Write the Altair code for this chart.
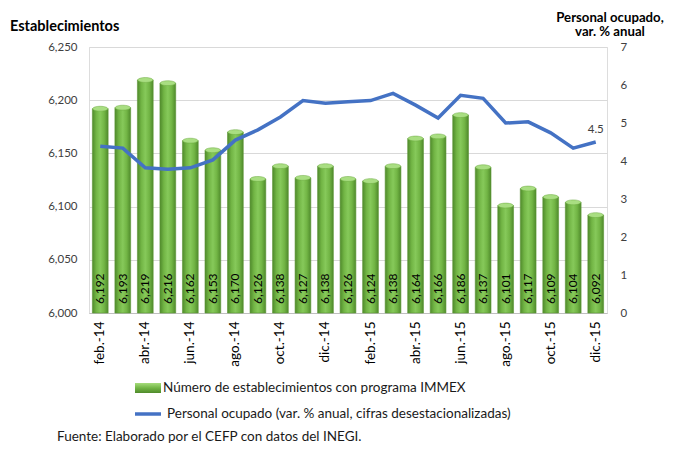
import altair as alt
import pandas as pd

meses = ["feb.-14", "mar.-14", "abr.-14", "may.-14", "jun.-14", "jul.-14", "ago.-14",
         "sep.-14", "oct.-14", "nov.-14", "dic.-14", "ene.-15", "feb.-15", "mar.-15",
         "abr.-15", "may.-15", "jun.-15", "jul.-15", "ago.-15", "sep.-15", "oct.-15",
         "nov.-15", "dic.-15"]
establecimientos = [6192, 6193, 6219, 6216, 6162, 6153, 6170, 6126, 6138, 6127, 6138,
                    6126, 6124, 6138, 6164, 6166, 6186, 6137, 6101, 6117, 6109, 6104, 6092]
personal = [4.39, 4.34, 3.82, 3.78, 3.82, 4.03, 4.55, 4.82, 5.16, 5.59, 5.52, 5.56,
            5.59, 5.78, 5.47, 5.13, 5.73, 5.65, 5.00, 5.03, 4.74, 4.34, 4.50]
etiquetas_x = meses[::2]
ticks_izq = [6000, 6050, 6100, 6150, 6200, 6250]
ticks_der = [0, 1, 2, 3, 4, 5, 6, 7]

FONT = "Lato"

df = pd.DataFrame({"mes": meses, "estab": establecimientos, "personal": personal})
df["etq"] = df["estab"].map(lambda v: f"{v:,}")
df["etq_p"] = df["personal"].map(lambda v: f"{v:.1f}")
df["piso"] = 6000

x_axis = alt.Axis(values=etiquetas_x, title=None, labelAngle=270,
                  labelFontSize=13.5, labelColor="#000000", labelFont=FONT,
                  ticks=False, domainColor="#bfbfbf", domainWidth=1,
                  labelPadding=8, grid=False)
x_scale = alt.Scale(paddingInner=0.3, paddingOuter=0.15)


def xe():
    return alt.X("mes:N", sort=meses, scale=x_scale, axis=x_axis)


y_left_scale = alt.Scale(domain=[6000, 6250], nice=False, zero=False)
y_left_axis = alt.Axis(values=ticks_izq, format=",.0f", title=None, labelFontSize=11.5,
                       labelColor="#404040", labelFont=FONT, ticks=False, domain=False,
                       labelPadding=12, gridColor="#d9d9d9", gridWidth=1)
y_right_scale = alt.Scale(domain=[0, 7], nice=False)
y_right_axis = alt.Axis(orient="right", values=ticks_der, format=".0f", title=None,
                        labelFontSize=11.5, labelColor="#404040", labelFont=FONT,
                        ticks=False, domain=False, grid=False, labelPadding=13)

bar_fill = alt.Gradient(
    gradient="linear", x1=0, x2=1, y1=0, y2=0,
    stops=[alt.GradientStop(color="#4f8a2b", offset=0),
           alt.GradientStop(color="#72b545", offset=0.25),
           alt.GradientStop(color="#86c95a", offset=0.5),
           alt.GradientStop(color="#72b545", offset=0.75),
           alt.GradientStop(color="#4f8a2b", offset=1)])

base = alt.Chart(df)

bars = base.mark_bar(fill=bar_fill, stroke="#5d9636", strokeWidth=0.6).encode(
    x=xe(),
    y=alt.Y("estab:Q", scale=y_left_scale, axis=y_left_axis),
    y2="piso:Q")

tops = base.mark_point(
    shape="M-1,0A1,0.32 0 1,0 1,0A1,0.32 0 1,0 -1,0Z", size=230, filled=True,
    fill="#a9de82", stroke="#6aa83f", strokeWidth=0.5, opacity=1).encode(
    x=xe(),
    y=alt.Y("estab:Q", scale=y_left_scale, axis=y_left_axis))

bar_labels = base.mark_text(angle=270, align="left", baseline="middle", dx=9,
                            fontSize=12, font=FONT, color="#000000").encode(
    x=xe(),
    y=alt.Y("piso:Q", scale=y_left_scale, axis=y_left_axis),
    text="etq:N")

left = alt.layer(bars, tops, bar_labels)

line = base.mark_line(color="#4472c4", strokeWidth=3.5).encode(
    x=xe(),
    y=alt.Y("personal:Q", scale=y_right_scale, axis=y_right_axis))

end_label = base.mark_text(dy=-12, fontSize=11.5, font=FONT, color="#404040").encode(
    x=xe(),
    y=alt.Y("personal:Q", scale=y_right_scale, axis=y_right_axis),
    text="etq_p:N").transform_filter(alt.datum.mes == "dic.-15")

right = alt.layer(line, end_label)


def texto(t, x, y, size, align="left", weight="normal", color="#1a1a1a"):
    return alt.Chart(pd.DataFrame({"t": [t]})).mark_text(
        align=align, baseline="middle", fontSize=size, fontWeight=weight, font=FONT,
        color=color).encode(x=alt.value(x), y=alt.value(y), text="t:N")


t_left = texto("Establecimientos", -79, -20, 14.5, weight="bold", color="#000000")
t_right1 = texto("Personal ocupado,", 521, -29.5, 13.2, align="center", weight="bold", color="#000000")
t_right2 = texto("var.  % anual", 521, -15, 13.2, align="center", weight="bold", color="#000000")

swatch_fill = alt.Gradient(
    gradient="linear", x1=0, x2=0, y1=0, y2=1,
    stops=[alt.GradientStop(color="#a6dc7c", offset=0),
           alt.GradientStop(color="#72b545", offset=0.5),
           alt.GradientStop(color="#4f8a2b", offset=1)])

leg_bar = alt.Chart(pd.DataFrame({"k": [1]})).mark_rect(fill=swatch_fill).encode(
    x=alt.value(46), x2=alt.value(72), y=alt.value(336), y2=alt.value(346))

leg_line = alt.Chart(pd.DataFrame({"k": [1]})).mark_rule(
    color="#4472c4", strokeWidth=3.5).encode(
    x=alt.value(46), x2=alt.value(72), y=alt.value(367))

leg_t1 = texto("Número de establecimientos con programa IMMEX", 74, 341, 13.5)
leg_t2 = texto("Personal ocupado (var. % anual, cifras desestacionalizadas)", 78, 367, 13.5)
source = texto("Fuente: Elaborado por el CEFP con datos del INEGI.", -32, 390, 13.5)

chart = alt.layer(left, right, t_left, t_right1, t_right2, leg_bar, leg_line,
                  leg_t1, leg_t2, source).resolve_scale(
    y="independent"
).properties(
    width=518, height=266,
    autosize=alt.AutoSizeParams(type="none"),
    padding={"left": 81, "top": 39, "right": 68, "bottom": 130},
).configure_view(stroke=None).configure(background="white")

chart.save("out.html", embed_options={"renderer": "svg", "actions": False})
